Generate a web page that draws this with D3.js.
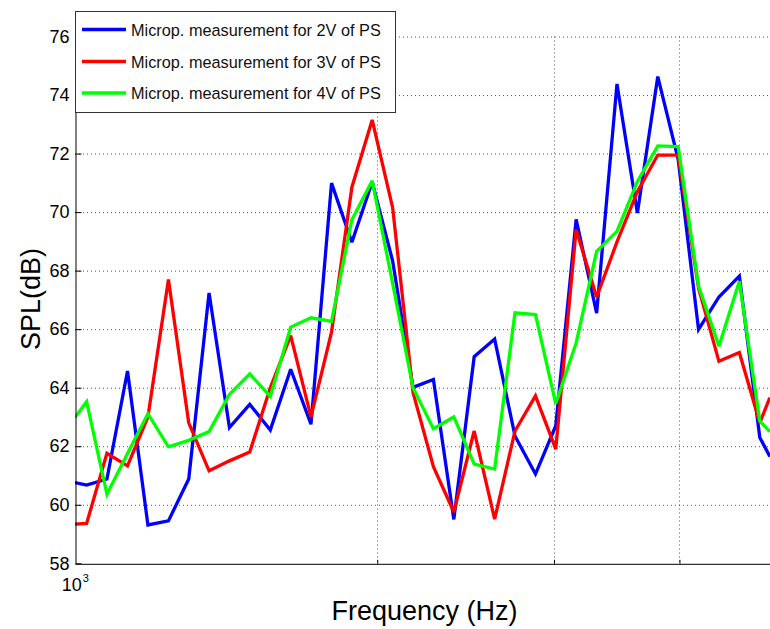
<!DOCTYPE html>
<html>
<head>
<meta charset="utf-8">
<script src="https://cdn.jsdelivr.net/npm/d3@7"></script>
<style>
  html, body { margin: 0; padding: 0; background: #fff; }
  svg { display: block; }
  text { font-family: "Liberation Sans", Arial, sans-serif; }
</style>
</head>
<body>
<svg id="chart" width="770" height="629"></svg>
<script>
// ---- data ----
const freqs = [1000, 1027, 1076, 1128, 1182, 1239, 1298, 1360, 1425, 1493, 1565, 1640,
  1718, 1801, 1887, 1977, 2072, 2171, 2275, 2384, 2498, 2618, 2743, 2875, 3012,
  3156, 3308, 3466, 3632, 3806, 3988, 4179, 4379, 4589, 4809, 4921];

const spl2V = [60.76, 60.67, 60.88, 64.57, 59.31, 59.45, 60.88, 67.24, 62.64, 63.43, 62.55, 64.63,
  62.75, 70.99, 68.97, 71.03, 68.33, 64.01, 64.28, 59.50, 65.06, 65.66, 62.35, 61.05, 62.70,
  69.75, 66.55, 74.38, 69.97, 74.63, 71.80, 65.99, 67.10, 67.81, 62.30, 61.65];

const spl3V = [59.34, 59.36, 61.76, 61.33, 63.00, 67.70, 62.80, 61.16, 61.50, 61.80, 64.00, 65.78,
  63.00, 65.90, 70.85, 73.15, 70.15, 63.84, 61.30, 59.75, 62.52, 59.51, 62.52, 63.72, 61.90,
  69.40, 67.10, 68.98, 70.70, 71.95, 71.95, 67.40, 64.90, 65.20, 62.80, 63.66];

const spl4V = [62.98, 63.52, 60.36, 61.75, 63.11, 61.98, 62.20, 62.50, 63.77, 64.47, 63.70, 66.07,
  66.39, 66.27, 69.74, 71.07, 67.56, 64.00, 62.60, 63.00, 61.39, 61.22, 66.56, 66.50, 63.45,
  65.53, 68.66, 69.34, 71.05, 72.26, 72.24, 67.47, 65.42, 67.64, 62.86, 62.50];

const seriesNames = ["Microp. measurement for 2V of PS",
                     "Microp. measurement for 3V of PS",
                     "Microp. measurement for 4V of PS"];
const seriesColors = ["#0000ff", "#ff0000", "#00ff00"];

const yTicks = [58, 60, 62, 64, 66, 68, 70, 72, 74, 76];
const xMinorTicks = [2000, 3000, 4000];
const xMajorTick = 1000;
const xTickBase = "10";
const xTickExp = "3";
const xLabel = "Frequency (Hz)";
const yLabel = "SPL(dB)";

// ---- layout ----
const pLeft = 75, pBottom = 563.3, pTop = 36.5;
const pRight = pLeft + 1004 * Math.log10(5);
const svg = d3.select("#chart");

const x = d3.scaleLog().domain([1000, 5000]).range([pLeft, pRight]);
const y = d3.scaleLinear().domain([58, 76]).range([pBottom, pTop]);

// clip
svg.append("defs").append("clipPath").attr("id", "plotclip")
  .append("rect").attr("x", pLeft).attr("y", pTop - 2)
  .attr("width", pRight - pLeft).attr("height", pBottom - pTop + 2);

// grid
const grid = svg.append("g");
grid.selectAll("line.h").data(yTicks.filter(v => v > 58)).enter().append("line")
  .attr("x1", pLeft).attr("x2", pRight)
  .attr("y1", d => y(d) + 0.5).attr("y2", d => y(d) + 0.5)
  .attr("stroke", "#555").attr("stroke-width", 1).attr("stroke-dasharray", "1,3");
grid.selectAll("line.v").data(xMinorTicks).enter().append("line")
  .attr("x1", d => Math.round(x(d)) + 0.5).attr("x2", d => Math.round(x(d)) + 0.5)
  .attr("y1", pTop).attr("y2", pBottom)
  .attr("stroke", "#555").attr("stroke-width", 1).attr("stroke-dasharray", "1,3");

// lines
const allSeries = [spl2V, spl3V, spl4V];
const line = d3.line().x((d, i) => x(freqs[i])).y(d => y(d));
svg.append("g").attr("clip-path", "url(#plotclip)")
  .selectAll("path").data(allSeries).enter().append("path")
  .attr("d", d => line(d))
  .attr("fill", "none")
  .attr("stroke", (d, i) => seriesColors[i])
  .attr("stroke-width", 3.3)
  .attr("stroke-linejoin", "miter")
  .attr("stroke-miterlimit", 3);

// y axis
const gy = svg.append("g").attr("transform", `translate(${pLeft + 0.5},0)`)
  .call(d3.axisLeft(y).tickValues(yTicks).tickSize(-6).tickSizeOuter(0).tickPadding(6));
gy.select(".domain").attr("stroke", "#000");
gy.selectAll(".tick line").attr("stroke", "#000");
gy.selectAll(".tick text").attr("font-size", 18).attr("fill", "#000")
  .attr("font-family", "'Liberation Sans', Arial, sans-serif");

// x axis
const gx = svg.append("g").attr("transform", `translate(0,${pBottom + 0.5})`)
  .call(d3.axisBottom(x).tickValues(xMinorTicks).tickSize(-4).tickSizeOuter(0).tickFormat(""));
gx.select(".domain").attr("stroke", "#000");
gx.selectAll(".tick line").attr("stroke", "#000");

// x major tick label 10^3
const xl = svg.append("text").attr("x", x(xMajorTick) - 13.3).attr("y", 590.5)
  .attr("font-size", 18).attr("fill", "#000");
xl.append("tspan").text(xTickBase);
xl.append("tspan").attr("font-size", 11).attr("dy", -8.5).attr("dx", 1).text(xTickExp);

// axis labels
svg.append("text").attr("x", 424.5).attr("y", 620).attr("text-anchor", "middle")
  .attr("font-size", 27).attr("fill", "#000").text(xLabel);
svg.append("text").attr("transform", "translate(40,299) rotate(-90)")
  .attr("text-anchor", "middle").attr("font-size", 27).attr("fill", "#000").text(yLabel);

// legend
const lg = svg.append("g");
lg.append("rect").attr("x", 75.5).attr("y", 11.5).attr("width", 320).attr("height", 101)
  .attr("fill", "#fff").attr("stroke", "#333").attr("stroke-width", 1);
const rowY = [29.5, 61.5, 93];
seriesNames.forEach((name, i) => {
  lg.append("line").attr("x1", 82).attr("x2", 126).attr("y1", rowY[i]).attr("y2", rowY[i])
    .attr("stroke", seriesColors[i]).attr("stroke-width", 3.3);
  lg.append("text").attr("x", 131).attr("y", rowY[i] + 6).attr("font-size", 16.3)
    .attr("fill", "#111").text(name);
});
</script>
</body>
</html>
